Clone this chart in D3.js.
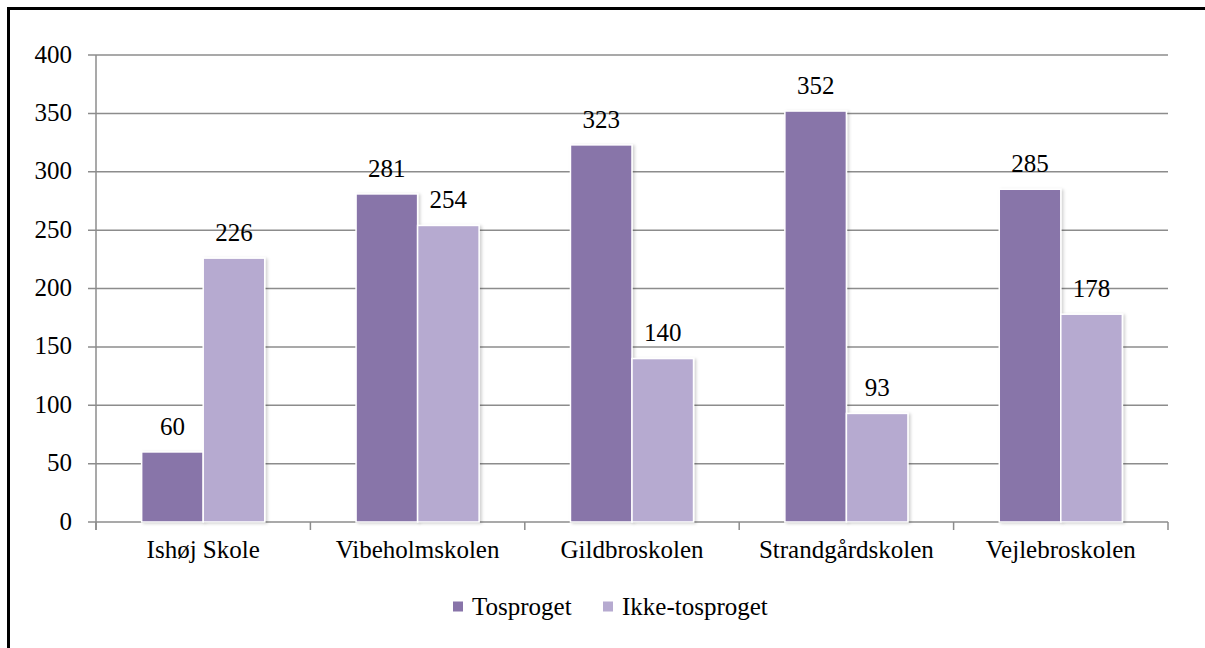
<!DOCTYPE html>
<html>
<head>
<meta charset="utf-8">
<script src="https://cdn.jsdelivr.net/npm/d3@7"></script>
<style>
  body { margin: 0; background: #fff; }
  svg { display: block; }
  text { font-family: "Liberation Serif", "Times New Roman", serif; fill: #000; }
</style>
</head>
<body>
<div class="chart"></div>
<script>
var schools = ["Ishøj Skole", "Vibeholmskolen", "Gildbroskolen", "Strandgårdskolen", "Vejlebroskolen"];
var seriesNames = ["Tosproget", "Ikke-tosproget"];
var tosproget = [60, 281, 323, 352, 285];
var ikkeTosproget = [226, 254, 140, 93, 178];
var yTicks = [0, 50, 100, 150, 200, 250, 300, 350, 400];

var colors = ["#8874a9", "#b6aad0"];

var W = 1205, H = 648;
var margin = {top: 55, right: 37, bottom: 126, left: 96},
    width = W - margin.left - margin.right,
    height = H - margin.top - margin.bottom;

var fontSize = "25px";

var data = schools.map(function(s, i) {
  return {school: s, values: [tosproget[i], ikkeTosproget[i]]};
});

var svg = d3.select(".chart").append("svg")
    .attr("width", W)
    .attr("height", H);

// soft shadow behind the bars
var defs = svg.append("defs");
var filter = defs.append("filter").attr("id", "shadow")
    .attr("x", "-10%").attr("y", "-10%").attr("width", "130%").attr("height", "130%");
filter.append("feDropShadow")
    .attr("dx", 2).attr("dy", 1).attr("stdDeviation", 1.5)
    .attr("flood-color", "#000").attr("flood-opacity", 0.18);

// outer frame (top and left visible)
svg.append("line").attr("x1", 8).attr("x2", W).attr("y1", 8.5).attr("y2", 8.5)
    .attr("stroke", "#000").attr("stroke-width", 3);
svg.append("line").attr("x1", 8.5).attr("x2", 8.5).attr("y1", 7).attr("y2", H)
    .attr("stroke", "#000").attr("stroke-width", 3);

var g = svg.append("g")
    .attr("transform", "translate(" + margin.left + "," + margin.top + ")");

var p = 0.426;
var x0 = d3.scaleBand()
    .domain(schools)
    .range([0, width])
    .paddingInner(p)
    .paddingOuter(p / 2);

var x1 = d3.scaleBand()
    .domain(seriesNames)
    .range([0, x0.bandwidth()]);

var y = d3.scaleLinear()
    .domain([0, 400])
    .range([height, 0]);

// gridlines
g.selectAll(".grid")
    .data(yTicks)
  .enter().append("line")
    .attr("class", "grid")
    .attr("x1", -8)
    .attr("x2", width)
    .attr("y1", function(d) { return y(d); })
    .attr("y2", function(d) { return y(d); })
    .attr("stroke", "#8c8c8c")
    .attr("stroke-width", 1.5);

// y axis
var yAxis = d3.axisLeft(y).tickValues(yTicks).tickSize(0).tickPadding(24);
var yg = g.append("g").call(yAxis);
yg.select(".domain").remove();
yg.attr("font-family", null).attr("font-size", null);
yg.selectAll("text")
    .style("font-size", fontSize)
    .attr("dy", "0.28em");
g.append("line")
    .attr("x1", 0).attr("x2", 0)
    .attr("y1", 0).attr("y2", height + 8)
    .attr("stroke", "#8c8c8c").attr("stroke-width", 1.5);

// x axis ticks at category boundaries
var bounds = d3.range(schools.length + 1).map(function(i) { return i * x0.step(); });
g.selectAll(".xtick")
    .data(bounds)
  .enter().append("line")
    .attr("x1", function(d) { return d; })
    .attr("x2", function(d) { return d; })
    .attr("y1", height)
    .attr("y2", height + 8)
    .attr("stroke", "#8c8c8c").attr("stroke-width", 1.5);

g.selectAll(".xlabel")
    .data(schools)
  .enter().append("text")
    .attr("class", "xlabel")
    .attr("x", function(d) { return x0(d) + x0.bandwidth() / 2; })
    .attr("y", height + 28)
    .attr("dy", "0.33em")
    .style("text-anchor", "middle")
    .style("font-size", fontSize)
    .text(function(d) { return d; });

// bars
var groups = g.selectAll(".group")
    .data(data)
  .enter().append("g")
    .attr("class", "group")
    .attr("transform", function(d) { return "translate(" + x0(d.school) + ",0)"; });

var cells = groups.selectAll(".cell")
    .data(function(d) {
      return d.values.map(function(v, i) { return {key: seriesNames[i], value: v, i: i}; });
    })
  .enter().append("g");

cells.append("rect")
    .attr("x", function(d) { return x1(d.key); })
    .attr("y", function(d) { return y(d.value); })
    .attr("width", x1.bandwidth())
    .attr("height", function(d) { return height - y(d.value); })
    .attr("fill", function(d) { return colors[d.i]; })
    .attr("stroke", "#fff")
    .attr("stroke-width", 1.5)
    .attr("filter", "url(#shadow)");

cells.append("text")
    .attr("x", function(d) { return x1(d.key) + x1.bandwidth() / 2; })
    .attr("y", function(d) { return y(d.value) - 25.5; })
    .attr("dy", "0.33em")
    .style("text-anchor", "middle")
    .style("font-size", fontSize)
    .text(function(d) { return d.value; });

// legend
var legendX = [453, 603];
var legend = svg.selectAll(".legend")
    .data(seriesNames)
  .enter().append("g")
    .attr("class", "legend")
    .attr("transform", function(d, i) { return "translate(" + legendX[i] + ",606.5)"; });

legend.append("rect")
    .attr("x", 0).attr("y", -5)
    .attr("width", 10).attr("height", 10)
    .attr("fill", function(d, i) { return colors[i]; });

legend.append("text")
    .attr("x", 19)
    .attr("dy", "0.33em")
    .style("font-size", fontSize)
    .text(function(d) { return d; });
</script>
</body>
</html>
